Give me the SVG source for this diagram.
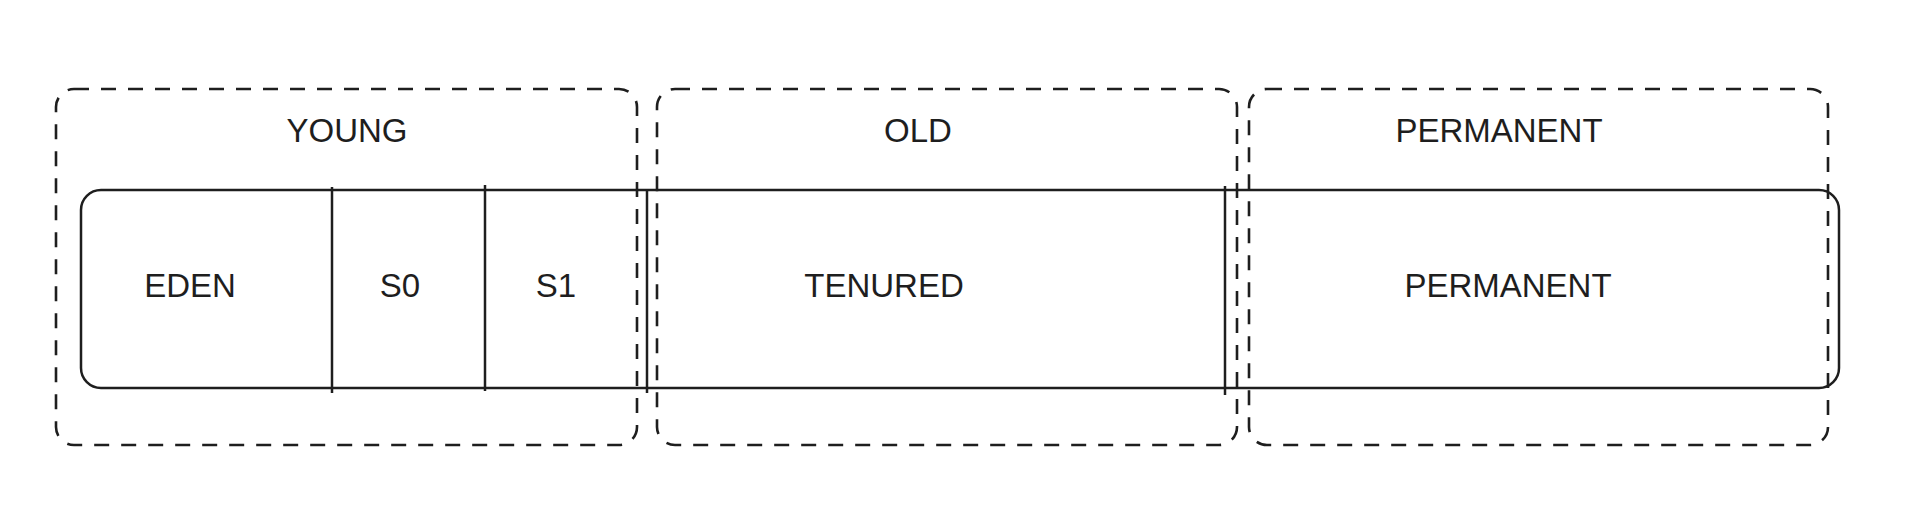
<svg xmlns="http://www.w3.org/2000/svg" width="1916" height="530" viewBox="0 0 1916 530">
<style>
.bg{fill:#ffffff}
.group{fill:none;stroke:#1e1e1e;stroke-width:2.6;stroke-dasharray:15 12}
.mem{fill:none;stroke:#1e1e1e;stroke-width:2.5}
.div{stroke:#1e1e1e;stroke-width:2.5;fill:none}
text{font-family:"Liberation Sans",Arial,sans-serif;font-size:33px;fill:#1e1e1e}
</style>
<rect class="bg" x="0" y="0" width="1916" height="530"/>
<g id="young">
<rect class="group" x="56" y="89" width="581" height="356" rx="18"/>
<text x="347" y="142" text-anchor="middle">YOUNG</text>
</g>
<g id="old">
<rect class="group" x="657" y="89" width="580" height="356" rx="18"/>
<text x="918" y="142" text-anchor="middle">OLD</text>
</g>
<g id="permanent-group">
<rect class="group" x="1249" y="89" width="579" height="356" rx="18"/>
<text x="1499" y="142" text-anchor="middle">PERMANENT</text>
</g>
<g id="memory">
<rect class="mem" x="81" y="190" width="1758" height="198" rx="20"/>
</g>
<g id="connectors">
<line class="div" x1="332" y1="187" x2="332" y2="393"/>
<line class="div" x1="485" y1="185" x2="485" y2="391"/>
<line class="div" x1="647" y1="189" x2="647" y2="393"/>
<line class="div" x1="1225" y1="186" x2="1225" y2="395"/>
</g>
<g id="eden"><text x="190" y="297" text-anchor="middle">EDEN</text></g>
<g id="s0"><text x="400" y="297" text-anchor="middle">S0</text></g>
<g id="s1"><text x="556" y="297" text-anchor="middle">S1</text></g>
<g id="tenured"><text x="884" y="297" text-anchor="middle">TENURED</text></g>
<g id="permanent"><text x="1508" y="297" text-anchor="middle">PERMANENT</text></g>
</svg>
